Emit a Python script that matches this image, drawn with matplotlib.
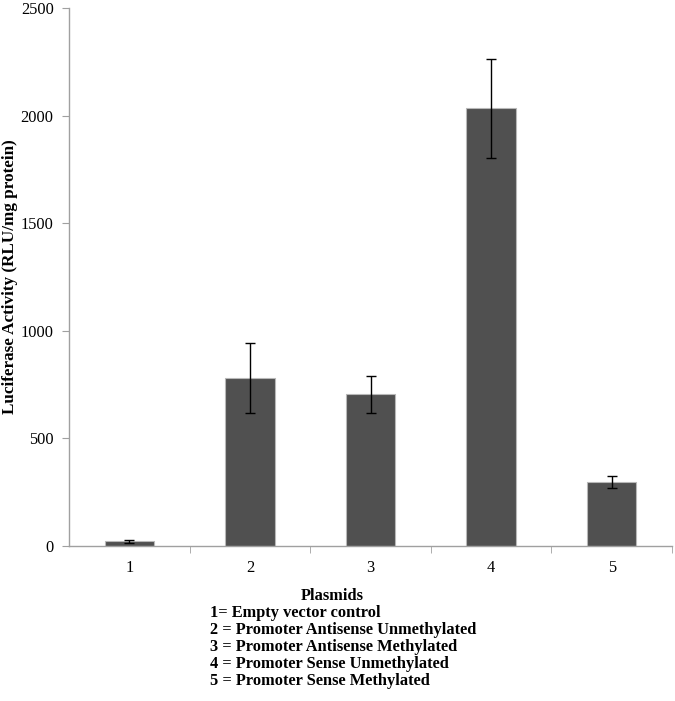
import numpy as np
import matplotlib.pyplot as plt

plasmids = ['1', '2', '3', '4', '5']
activity = [20, 778, 704, 2033, 298]
err = [6, 163, 87, 232, 28]
key_lines = ['1= Empty vector control',
             '2 = Promoter Antisense Unmethylated',
             '3 = Promoter Antisense Methylated',
             '4 = Promoter Sense Unmethylated',
             '5 = Promoter Sense Methylated']

plt.rcParams['font.family'] = ['Liberation Serif', 'DejaVu Serif']

fig = plt.figure(figsize=(6.75, 7.01), dpi=100)
ax = fig.add_axes([69 / 675, 1 - 545.7 / 701, 603 / 675, 537.7 / 701])

x = np.arange(len(plasmids))
ax.bar(x, activity, width=0.41, color='#505050', edgecolor='#b8b8b8', linewidth=0.8,
       yerr=err, capsize=3.5, error_kw={'elinewidth': 1, 'ecolor': 'black', 'capthick': 1})

ax.set_xlim(-0.5, len(plasmids) - 0.5)
ax.set_ylim(0, 2500)
ax.set_yticks(np.arange(0, 2501, 500))
ax.set_xticks(x)
ax.set_xticklabels(plasmids)
ax.set_xticks(np.arange(0.5, len(plasmids)), minor=True)
ax.tick_params(axis='x', which='major', length=0, pad=10, labelsize=11.8)
ax.tick_params(axis='x', which='minor', length=5, direction='out', color='#a0a0a0')
ax.tick_params(axis='y', length=5, direction='out', color='#a0a0a0', labelsize=11.8, pad=6)

for s in ['top', 'right']:
    ax.spines[s].set_visible(False)
for s in ['left', 'bottom']:
    ax.spines[s].set_color('#a0a0a0')
    ax.spines[s].set_linewidth(1)

fig.text(10 / 675, 1 - 277 / 701, 'Luciferase Activity (RLU/mg protein)', rotation=90,
         ha='center', va='center', fontsize=12.3, fontweight='bold')
fig.text(332 / 675, 1 - 596 / 701, 'Plasmids', ha='center', va='center',
         fontsize=11.8, fontweight='bold')
for i, line in enumerate(key_lines):
    fig.text(210 / 675, 1 - (613 + i * 17) / 701, line, ha='left', va='center',
             fontsize=11.8, fontweight='bold')

fig.savefig('out.png', dpi=100)
